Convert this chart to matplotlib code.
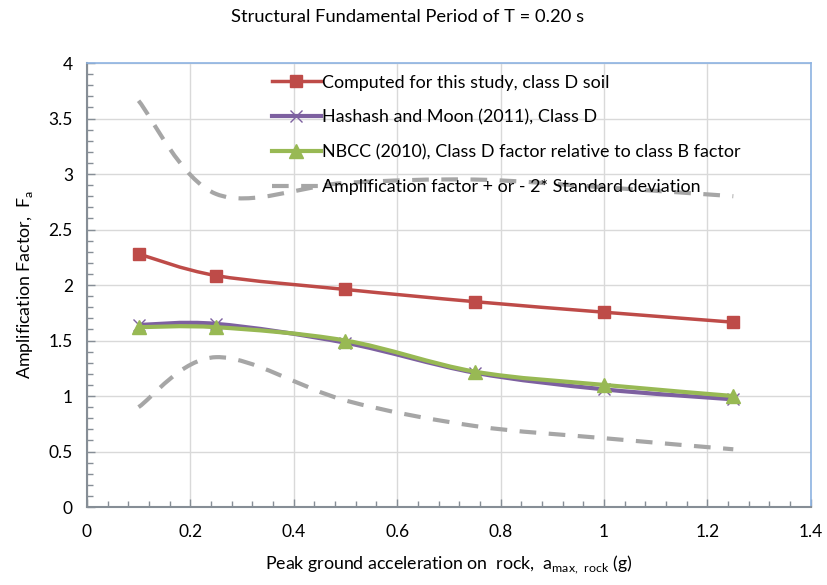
import numpy as np
import matplotlib.pyplot as plt
from matplotlib.path import Path
from matplotlib.patches import PathPatch
from matplotlib.lines import Line2D
from matplotlib.ticker import MultipleLocator

plt.rcParams['font.family'] = ['Lato', 'DejaVu Sans']

pga = [0.1, 0.25, 0.5, 0.75, 1.0, 1.25]
computed = [2.28, 2.085, 1.96, 1.85, 1.755, 1.665]
hashash = [1.64, 1.65, 1.48, 1.21, 1.06, 0.97]
nbcc = [1.62, 1.62, 1.50, 1.22, 1.10, 1.00]
upper_sd = [3.66, 2.82, 2.92, 2.95, 2.88, 2.80]
lower_sd = [0.90, 1.35, 0.96, 0.73, 0.62, 0.52]

labels = ['Computed for this study, class D soil',
          'Hashash and Moon (2011), Class D',
          'NBCC (2010), Class D factor relative to class B factor',
          'Amplification factor + or - 2* Standard deviation']

RED = '#BE4B48'
PURPLE = '#7D60A0'
GREEN = '#98B954'
GRAY = '#A6A6A6'


def smooth_path(x, y):
    # spreadsheet-style smoothed line: cubic bezier through every point
    p = np.column_stack([x, y])
    n = len(p)
    verts = [p[0]]
    codes = [Path.MOVETO]
    for i in range(n - 1):
        p0 = p[i - 1] if i > 0 else p[i]
        p3 = p[i + 2] if i + 2 < n else p[i + 1]
        c1 = p[i] + (p[i + 1] - p0) / 6.0
        c2 = p[i + 1] - (p3 - p[i]) / 6.0
        verts += [c1, c2, p[i + 1]]
        codes += [Path.CURVE4] * 3
    return Path(verts, codes)


def draw_series(ax, x, y, color, lw, marker=None, ms=8, dashes=None, z=2):
    patch = PathPatch(smooth_path(x, y), facecolor='none', edgecolor=color,
                      lw=lw, zorder=z, capstyle='butt')
    if dashes is not None:
        patch.set_linestyle((0, dashes))
    ax.add_patch(patch)
    if marker:
        ax.plot(x, y, linestyle='none', marker=marker, ms=ms, color=color,
                markeredgecolor=color, zorder=z + 0.5)


fig = plt.figure(figsize=(8.27, 5.85), dpi=100)
ax = fig.add_axes([0.105, 0.1333, 0.8755, 0.759])

draw_series(ax, pga, upper_sd, GRAY, 3, dashes=(4, 3))
draw_series(ax, pga, lower_sd, GRAY, 3, dashes=(4, 3))
draw_series(ax, pga, computed, RED, 2.5, marker='s', ms=9, z=3)
draw_series(ax, pga, hashash, PURPLE, 3, marker='x', ms=9, z=4)
draw_series(ax, pga, nbcc, GREEN, 3, marker='^', ms=10, z=5)

ax.set_xlim(0, 1.4)
ax.set_ylim(0, 4)
ax.xaxis.set_major_locator(MultipleLocator(0.2))
ax.xaxis.set_minor_locator(MultipleLocator(0.04))
ax.yaxis.set_major_locator(MultipleLocator(0.5))
ax.yaxis.set_minor_locator(MultipleLocator(0.1))
ax.xaxis.set_major_formatter(plt.FuncFormatter(lambda v, p: f'{v:g}'))
ax.yaxis.set_major_formatter(plt.FuncFormatter(lambda v, p: f'{v:g}'))

ax.grid(True, which='major', color='#D9D9D9', lw=1)
ax.set_axisbelow(True)
ax.tick_params(which='both', direction='in', color='#868E96', labelsize=12.5)
ax.tick_params(which='major', length=6, width=1)
ax.tick_params(which='minor', length=4, width=1)
ax.tick_params(axis='x', pad=12)
ax.tick_params(axis='y', pad=10)
for s in ['left', 'bottom']:
    ax.spines[s].set_color('#868E96')
    ax.spines[s].set_linewidth(1.5)
for s in ['top', 'right']:
    ax.spines[s].set_color('#8DB3E2')
    ax.spines[s].set_linewidth(1.2)

fig.suptitle('Structural Fundamental Period of T = 0.20 s', x=0.493, y=0.985,
             va='top', fontsize=13.2)
ax.set_xlabel(r'Peak ground acceleration on  rock,  a$_\mathregular{max,\ rock}$ (g)',
              fontsize=12.8, labelpad=10)
ax.set_ylabel(r'Amplification Factor,  F$_\mathregular{a}$', fontsize=12.8, labelpad=10)

handles = [
    Line2D([], [], color=RED, lw=2.5, marker='s', ms=9),
    Line2D([], [], color=PURPLE, lw=3, marker='x', ms=9),
    Line2D([], [], color=GREEN, lw=3, marker='^', ms=10),
    Line2D([], [], color=GRAY, lw=3, dashes=(4, 3)),
]
ax.legend(handles, labels, loc='upper left', bbox_to_anchor=(0.24, 1.0),
          frameon=False, fontsize=12.9, handlelength=2.7, handletextpad=0.1,
          labelspacing=1.05, borderaxespad=0.25)

fig.savefig('out.png', dpi=100)
